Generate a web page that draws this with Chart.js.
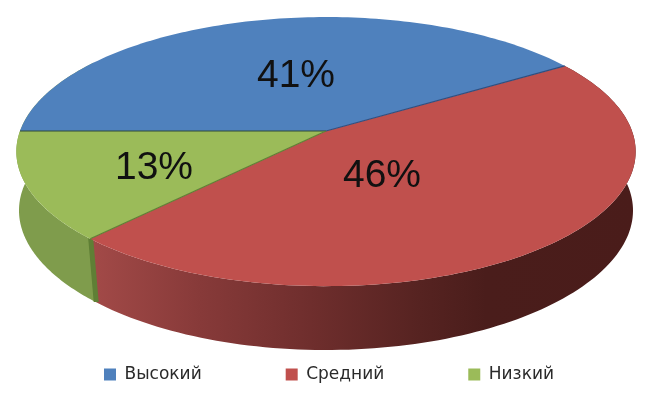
<!DOCTYPE html>
<html>
<head>
<meta charset="utf-8">
<script src="https://cdn.jsdelivr.net/npm/chart.js@4/dist/chart.umd.min.js"></script>
<style>
  html, body { margin: 0; padding: 0; background: #fff; }
  #wrap { width: 658px; height: 394px; }
</style>
</head>
<body>
<div id="wrap"><canvas id="pie3d"></canvas></div>
<script>
const categories = ['Высокий', 'Средний', 'Низкий'];
const shares = [41, 46, 13];
const colors = ['#4f81bd', '#c0504d', '#9bbb59'];

// perspective of the pie top and bottom, same lens for both
const lens = { cx: 326, cy: 131, rx: 306, ry: 131.4, p: -0.153 };
const depth = { cy: 193, ry: 133 };
const labelSpots = [[296, 76], [382, 176], [154, 168]];
const legendGap = 84;
const legendTextTop = 366;

function topPoint(a) {
  const w = 1 + lens.p * Math.sin(a);
  return [lens.cx + lens.rx * Math.cos(a) / w, lens.cy + lens.ry * Math.sin(a) / w];
}
function bottomPoint(a) {
  const w = 1 + lens.p * Math.sin(a);
  const sx = 0.995 - 0.025 * Math.sin(a); // bottom rim pulls in toward the front
  return [lens.cx + sx * lens.rx * Math.cos(a) / w, depth.cy + depth.ry * Math.sin(a) / w];
}
function rimPath(ctx, from, to, fn, start) {
  const steps = 120;
  for (let i = 0; i <= steps; i++) {
    const pt = fn(from + (to - from) * i / steps);
    if (i === 0 && start) ctx.moveTo(pt[0], pt[1]);
    else ctx.lineTo(pt[0], pt[1]);
  }
}

const pie3d = {
  id: 'pie3d',
  afterLayout(chart) {
    // big item gap also pads the legend box, so slide the box back down
    const l = chart.legend;
    const h = l.bottom - l.top;
    l.top = legendTextTop - legendGap;
    l.bottom = l.top + h;
  },
  beforeDatasetsDraw(chart) {
    const ctx = chart.ctx;
    const arcs = chart.getDatasetMeta(0).data;
    const wallFrom = -0.6;
    ctx.save();

    // side walls, only the part that faces the viewer. blue sits at the back
    arcs.forEach((arc, i) => {
      if (i === 0) return;
      const a0 = Math.max(i === 1 ? arc.startAngle - 2 * Math.PI : arc.startAngle, wallFrom);
      // green runs on a bit behind the rim so the left outline stays smooth
      const a1 = i === 2 ? arc.endAngle + 0.6 : arc.endAngle - (i === 1 ? 2 * Math.PI : 0);
      const g = ctx.createLinearGradient(90, 0, 640, 0);
      if (i === 1) {
        g.addColorStop(0, '#a34a48');
        g.addColorStop(0.2, '#873a39');
        g.addColorStop(0.4, '#6f2e2d');
        g.addColorStop(0.6, '#562321');
        g.addColorStop(0.72, '#4a1d1b');
        g.addColorStop(1, '#4a1c1a');
      } else {
        g.addColorStop(0, '#7f9c4c');
        g.addColorStop(1, '#7f9c4c');
      }
      ctx.beginPath();
      rimPath(ctx, a0, a1, topPoint, true);
      rimPath(ctx, a1, a0, bottomPoint, false);
      ctx.closePath();
      ctx.fillStyle = g;
      ctx.fill();
    });

    // cut edge of the small slice
    const cut = arcs[2].startAngle;
    const t = topPoint(cut), b = bottomPoint(cut);
    ctx.beginPath();
    ctx.moveTo(t[0] - 2, t[1]);
    ctx.lineTo(t[0] + 3, t[1]);
    ctx.lineTo(b[0] + 3, b[1]);
    ctx.lineTo(b[0] - 2, b[1]);
    ctx.closePath();
    ctx.fillStyle = '#5f7f35';
    ctx.fill();

    // top faces
    arcs.forEach((arc, i) => {
      ctx.beginPath();
      ctx.moveTo(lens.cx, lens.cy);
      rimPath(ctx, arc.startAngle, arc.endAngle, topPoint, false);
      ctx.closePath();
      ctx.fillStyle = colors[i];
      ctx.fill();
    });

    // thin dark lines along the cuts
    const lineColors = ['#2f4a3a', '#2f4f80', '#5f7f35'];
    arcs.forEach((arc, i) => {
      const pt = topPoint(arc.startAngle);
      ctx.beginPath();
      ctx.moveTo(lens.cx, lens.cy);
      ctx.lineTo(pt[0], pt[1]);
      ctx.strokeStyle = lineColors[i];
      ctx.lineWidth = 1.2;
      ctx.stroke();
    });

    // percent labels
    ctx.fillStyle = '#111';
    ctx.font = '39px "Liberation Sans", Arial, sans-serif';
    ctx.textAlign = 'center';
    ctx.textBaseline = 'middle';
    shares.forEach((v, i) => {
      ctx.fillText(v + '%', labelSpots[i][0], labelSpots[i][1]);
    });
    ctx.restore();
    return false;
  },
};

const chart_pie = new Chart(document.getElementById('pie3d').getContext('2d'), {
  type: 'pie',
  data: {
    labels: categories,
    datasets: [{ data: shares, backgroundColor: colors, borderWidth: 0 }],
  },
  options: {
    responsive: true,
    maintainAspectRatio: false,
    animation: false,
    rotation: 270,
    plugins: {
      tooltip: { enabled: false },
      legend: {
        position: 'bottom',
        labels: {
          boxWidth: 12,
          boxHeight: 12,
          padding: legendGap,
          color: '#2a2a2a',
          font: { family: '"DejaVu Sans", sans-serif', size: 17 },
        },
      },
    },
  },
  plugins: [pie3d],
});
</script>
</body>
</html>
